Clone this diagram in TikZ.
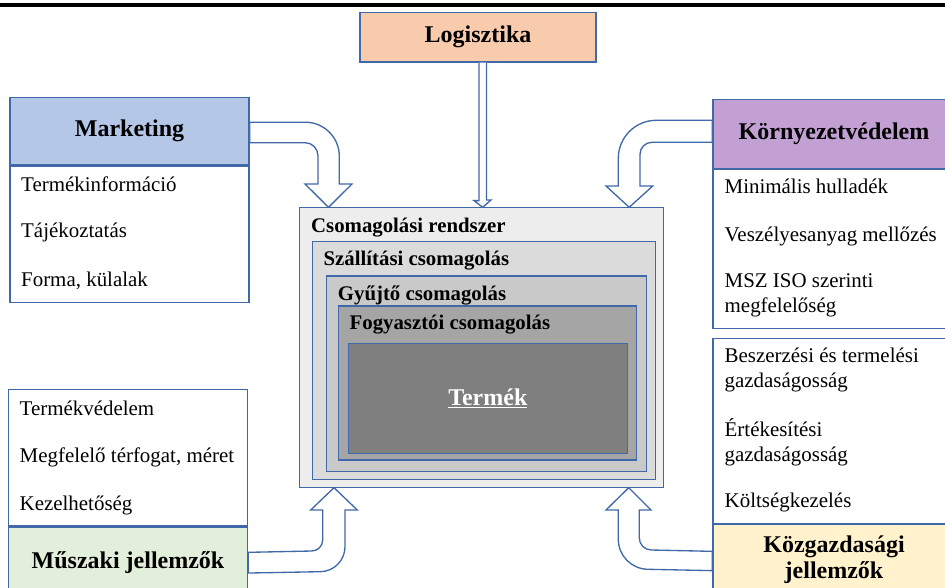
\documentclass[tikz,border=0pt]{standalone}
\usepackage{fontspec}
\setmainfont{Liberation Serif}
\usepackage{xcolor}
\usepackage{tikz}
\usetikzlibrary{positioning, calc}

\definecolor{keret}{RGB}{65,105,170}
\definecolor{logszin}{RGB}{248,203,173}
\definecolor{mkszin}{RGB}{180,199,231}
\definecolor{kvszin}{RGB}{195,160,212}
\definecolor{msszin}{RGB}{226,239,218}
\definecolor{kgszin}{RGB}{255,242,204}
\definecolor{cs1}{RGB}{237,237,237}
\definecolor{cs2}{RGB}{219,219,219}
\definecolor{cs3}{RGB}{201,201,201}
\definecolor{cs4}{RGB}{165,165,165}
\definecolor{cs5}{RGB}{127,127,127}

\begin{document}
\begin{tikzpicture}[x=0.75pt, y=-0.75pt, line width=1pt,
  doboz/.style={draw=keret, rectangle, inner sep=0pt},
  fejlec/.style={doboz, font=\fontsize{18}{20}\selectfont\bfseries, align=center},
  tetel/.style={anchor=west, inner sep=0pt, align=left, font=\fontsize{15.7}{18.75}\selectfont},
  csom/.style={anchor=west, inner sep=0pt, font=\fontsize{15.6}{18}\selectfont\bfseries},
  nyil/.style={draw=keret, fill=white, line join=miter}]
\useasboundingbox (0,0) rectangle (945,588);

% Felso vonal
\draw[line width=2.5pt] (0,5) -- (945,5);

% Dobozok
\node[fejlec, fill=logszin, minimum width=177pt, minimum height=37pt] (log) at (478,37.3) {Logisztika};

\node[fejlec, fill=mkszin, minimum width=179.25pt, minimum height=50.8pt] (mkhead) at (129.5,131.2) {Marketing};
\node[doboz, fill=white, minimum width=179.25pt, minimum height=102pt, below=0pt of mkhead] (mkbody) {};

\node[fejlec, fill=kvszin, minimum width=181.5pt, minimum height=51.75pt] (kvhead) at (834,133.8) {Környezetvédelem};
\node[doboz, fill=white, minimum width=181.5pt, minimum height=119.25pt, below=0pt of kvhead] (kvbody) {};

\node[doboz, fill=white, minimum width=179.25pt, minimum height=102.5pt] (msbody) at (128,457.7) {};
\node[fejlec, fill=msszin, minimum width=179.25pt, minimum height=53.5pt, below=0pt of msbody] (mshead) {Műszaki jellemzők};

\node[doboz, fill=white, minimum width=181.5pt, minimum height=138.75pt] (kgbody) at (834,430.8) {};
\node[fejlec, fill=kgszin, minimum width=181.5pt, minimum height=52.5pt, below=0pt of kgbody] (kghead) {Közgazdasági\\jellemzők};

% Csomagolasi szintek
\node[doboz, fill=cs1, minimum width=273pt, minimum height=210.3pt] (rendszer) at (481.3,347.5) {};
\node[doboz, fill=cs2, minimum width=257.5pt, minimum height=178.2pt] (szall) at (484,360.5) {};
\node[doboz, fill=cs3, minimum width=240pt, minimum height=146.8pt] (gyujto) at (486.7,373.8) {};
\node[doboz, fill=cs4, minimum width=223.8pt, minimum height=115.5pt] (fogy) at (487.5,383) {};
\node[doboz, fill=cs5, minimum width=209.25pt, minimum height=82.5pt, text=white,
  font=\fontsize{18}{20}\selectfont\bfseries] (termek) at (487.8,398.3) {\underline{Termék}};

\node[csom] (l-rendszer) at (310.5,227.3) {Csomagolási rendszer};
\node[csom] (l-szall) at (323,260.7) {Szállítási csomagolás};
\node[csom] (l-gyujto) at (337.3,295) {Gyűjtő csomagolás};
\node[csom] (l-fogy) at (349,325) {Fogyasztói csomagolás};

% Tetelek
\node[tetel] (mk1) at (20.5,184) {Termékinformáció};
\node[tetel] (mk2) at (20.5,232.7) {Tájékoztatás};
\node[tetel] (mk3) at (20.5,280.7) {Forma, külalak};

\node[tetel] (kv1) at (724,186.7) {Minimális hulladék};
\node[tetel] (kv2) at (724,236.7) {Veszélyesanyag mellőzés};
\node[tetel] (kv3) at (724,295.8) {MSZ ISO szerinti\\megfelelőség};

\node[tetel] (ms1) at (19,408.3) {Termékvédelem};
\node[tetel] (ms2) at (19,457.3) {Megfelelő térfogat, méret};
\node[tetel] (ms3) at (19,505) {Kezelhetőség};

\node[tetel] (kg1) at (724,369.7) {Beszerzési és termelési\\gazdaságosság};
\node[tetel] (kg2) at (724,442.5) {Értékesítési\\gazdaságosság};
\node[tetel] (kg3) at (724,502.7) {Költségkezelés};

% Nyilak
\coordinate (logtip) at (482.7,207.3);
\coordinate (mktip) at (328.5,207.3);
\coordinate (kvtip) at (629.2,207.3);
\coordinate (mstip) at (334,487.7);
\coordinate (kgtip) at (628.7,487.7);

\draw[nyil] ($(log.south)+(1,0)$) -- ++(0,138) -- ++(-5,0) -- (logtip)
  -- ++(8.3,-7.3) -- ++(-4.5,0) -- ($(log.south)+(8.5,0)$);

\draw[nyil] ($(mkhead.east)+(0,-9)$) -- (305.3,122.2) arc[start angle=90, end angle=0, radius=25.5pt]
  -- (339.3,184) -- ++(12.7,0) -- (mktip) -- ++(-23.5,-23.3) -- ++(13,0)
  -- (318,155.7) arc[start angle=0, end angle=90, radius=9.75pt] -- ($(mkhead.east)+(0,11.5)$) -- cycle;

\draw[nyil] ($(kvhead.west)+(0,-13.5)$) -- (656.3,120.3) arc[start angle=90, end angle=180, radius=28.5pt]
  -- (618.3,186) -- ++(-12.3,0) -- (kvtip) -- ++(23.5,-21.3) -- ++(-12.7,0)
  -- (640,154.3) arc[start angle=180, end angle=90, radius=9pt] -- ($(kvhead.west)+(0,8.5)$) -- cycle;

\draw[nyil] ($(mshead.east)+(0,10)$) -- (320,571.7) arc[start angle=-90, end angle=0, radius=18.75pt]
  -- (345,510) -- ++(12.3,0) -- (mstip) -- ++(-23.3,22.3) -- ++(12,0)
  -- (322.7,540) arc[start angle=0, end angle=-90, radius=8.25pt] -- ($(mshead.east)+(0,-10.7)$) -- cycle;

\draw[nyil] ($(kghead.west)+(0,11)$) -- (648.3,569.3) arc[start angle=270, end angle=180, radius=22.5pt]
  -- (618.3,510) -- ++(-12.3,0) -- (kgtip) -- ++(22.3,22.3) -- ++(-11.7,0)
  -- (639.3,538) arc[start angle=180, end angle=270, radius=9pt] -- ($(kghead.west)+(0,-8.3)$) -- cycle;
\end{tikzpicture}
\end{document}
